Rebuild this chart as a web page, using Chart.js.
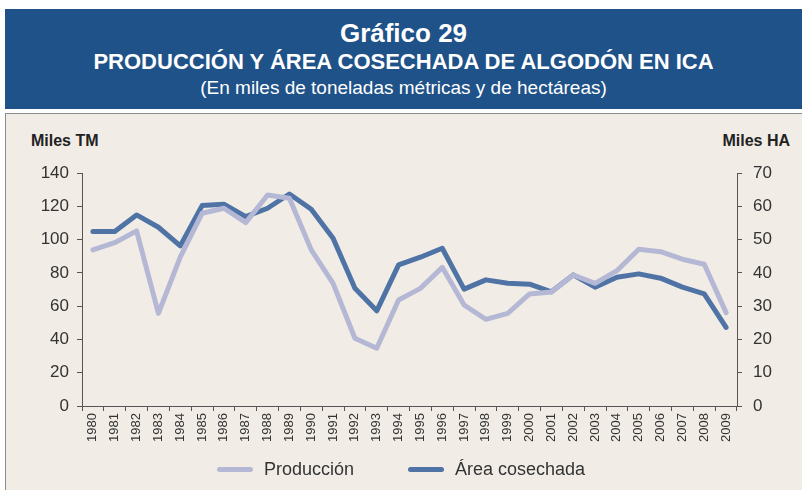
<!DOCTYPE html>
<html>
<head>
<meta charset="utf-8">
<script src="https://cdn.jsdelivr.net/npm/chart.js@4"></script>
<style>
    body { margin: 0; width: 802px; height: 490px; background: #ffffff; position: relative; overflow: hidden;
        font-family: 'Liberation Sans', Arial, sans-serif; }
    .band { position: absolute; left: 5px; top: 9px; width: 797px; height: 100px; background: #1f5288; color: #fff; text-align: center; }
    .band div { position: absolute; left: 0; right: 0; white-space: nowrap; }
    .t1 { top: 10px; font-size: 26px; font-weight: bold; line-height: 28px; }
    .t2 { top: 41px; font-size: 22px; font-weight: bold; line-height: 24px; }
    .t3 { top: 68px; font-size: 19px; line-height: 22px; }
    .panel { position: absolute; left: 5px; top: 113px; width: 800px; height: 380px; background: #f1ede6; border: 1px solid #8c8c8c; }
    .axis-title { position: absolute; top: 131px; font-size: 16px; font-weight: bold; color: #222; line-height: 20px; }
    #chart-wrap { position: absolute; left: 6px; top: 114px; width: 796px; height: 376px; }
    .legend { position: absolute; top: 458px; font-size: 18px; color: #333; line-height: 22px; }
    .legend span.swatch { position: absolute; top: 9px; width: 36px; height: 5px; border-radius: 3px; }
</style>
</head>
<body>
<div class="band">
    <div class="t1">Gráfico 29</div>
    <div class="t2">PRODUCCIÓN Y ÁREA COSECHADA DE ALGODÓN EN ICA</div>
    <div class="t3">(En miles de toneladas métricas y de hectáreas)</div>
</div>
<div class="panel"></div>
<div class="axis-title" style="left:31px">Miles TM</div>
<div class="axis-title" style="right:12px">Miles HA</div>
<div id="chart-wrap"><canvas id="chart"></canvas></div>
<div class="legend" style="left:217px"><span class="swatch" id="sw0" style="left:0"></span><span style="position:absolute;left:47px;white-space:nowrap" id="lg0"></span></div>
<div class="legend" style="left:408px"><span class="swatch" id="sw1" style="left:0"></span><span style="position:absolute;left:47px;white-space:nowrap" id="lg1"></span></div>
<script>
const years = ['1980', '1981', '1982', '1983', '1984', '1985', '1986', '1987', '1988', '1989',
    '1990', '1991', '1992', '1993', '1994', '1995', '1996', '1997', '1998', '1999',
    '2000', '2001', '2002', '2003', '2004', '2005', '2006', '2007', '2008', '2009'];

// miles de toneladas metricas (eje izquierdo)
const produccion = [93.8, 98.1, 105.2, 55.7, 89.4, 115.8, 118.8, 110.2, 126.8, 124.8,
    93.8, 73.7, 40.7, 34.7, 63.7, 70.7, 83.3, 60.7, 52.1, 55.7,
    67.3, 68.5, 78.7, 73.7, 81.3, 94.2, 92.7, 88.2, 85.2, 56.1];

// miles de hectareas (eje derecho)
const areaCosechada = [52.4, 52.4, 57.4, 53.7, 48.1, 60.2, 60.6, 56.9, 59.4, 63.7,
    59.1, 50.4, 35.4, 28.6, 42.4, 44.7, 47.4, 35.1, 37.9, 36.9,
    36.6, 34.3, 39.4, 35.7, 38.7, 39.7, 38.4, 35.7, 33.7, 23.6];

const leftTicks = [0, 20, 40, 60, 80, 100, 120, 140];
const rightTicks = [0, 10, 20, 30, 40, 50, 60, 70];

const seriesNames = ['Producción', 'Área cosechada'];
const colors = ['#b5b8d5', '#5073a6'];

const font = "'Liberation Sans', Arial, sans-serif";
const axisColor = '#555555';
const tickText = '#333333';

seriesNames.forEach((name, i) => {
    document.getElementById('lg' + i).textContent = name;
    document.getElementById('sw' + i).style.background = colors[i];
});

function yAxis(position, ticks, width, pad) {
    return {
        type: 'linear',
        position,
        min: ticks[0],
        max: ticks[ticks.length - 1],
        afterBuildTicks: (scale) => { scale.ticks = ticks.map((v) => ({ value: v })); },
        afterFit: (scale) => { scale.width = width; },
        border: { display: true, color: axisColor, width: 1 },
        grid: { drawOnChartArea: false, drawTicks: true, tickLength: 5, color: axisColor },
        ticks: { color: tickText, font: { family: font, size: 17 }, padding: pad },
    };
}

new Chart(document.getElementById('chart'), {
    type: 'line',
    data: {
        labels: years,
        datasets: [
            {
                label: seriesNames[0],
                data: produccion,
                yAxisID: 'y',
                borderColor: colors[0],
                backgroundColor: colors[0],
                borderWidth: 5,
                pointRadius: 0,
                tension: 0,
                borderCapStyle: 'round',
                borderJoinStyle: 'round',
            },
            {
                label: seriesNames[1],
                data: areaCosechada,
                yAxisID: 'y1',
                borderColor: colors[1],
                backgroundColor: colors[1],
                borderWidth: 5,
                pointRadius: 0,
                tension: 0,
                borderCapStyle: 'round',
                borderJoinStyle: 'round',
            },
        ],
    },
    options: {
        responsive: true,
        maintainAspectRatio: false,
        animation: false,
        layout: { padding: { left: 0, right: 0, top: 59, bottom: 34 } },
        plugins: {
            legend: { display: false },
            tooltip: { enabled: false },
        },
        scales: {
            x: {
                offset: true,
                afterFit: (scale) => { scale.height = 50; },
                border: { display: true, color: axisColor, width: 1 },
                grid: { offset: true, drawOnChartArea: false, drawTicks: true, tickLength: 5, color: axisColor },
                ticks: {
                    color: tickText,
                    font: { family: font, size: 13 },
                    minRotation: 90,
                    maxRotation: 90,
                    autoSkip: false,
                    padding: 2,
                },
            },
            y: yAxis('left', leftTicks, 76, 8),
            y1: yAxis('right', rightTicks, 65, 11),
        },
    },
});
</script>
</body>
</html>
